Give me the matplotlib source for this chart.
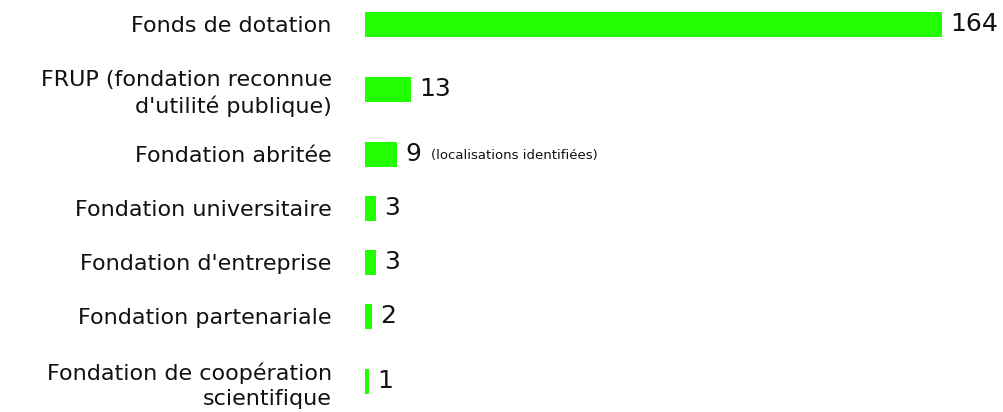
import matplotlib
matplotlib.use("Agg")
import matplotlib.pyplot as plt

plt.rcParams['font.family'] = ['DejaVu Sans']

categories = [
    "Fonds de dotation",
    "FRUP (fondation reconnue\nd'utilité publique)",
    "Fondation abritée",
    "Fondation universitaire",
    "Fondation d'entreprise",
    "Fondation partenariale",
    "Fondation de coopération\nscientifique",
]
values = [164, 13, 9, 3, 3, 2, 1]
value_notes = ["", "", "(localisations identifiées)", "", "", "", ""]

GREEN = "#22ff00"

# vertical layout in pixel units: two-line labels take more room
row_h = [54 + 22 * (c.count("\n")) for c in categories]
ypos = [0]
for a, b in zip(row_h[:-1], row_h[1:]):
    ypos.append(ypos[-1] + (a + b) / 2)

W, H = 1004, 412
fig = plt.figure(figsize=(W / 100, H / 100), dpi=100)
left = 365
ax = fig.add_axes([left / W, 0, 1 - left / W, 1])
px_per_unit = 577 / 164
ax.set_xlim(0, (W - left) / px_per_unit)
ax.set_ylim(H - 24, -24)

ax.barh(ypos, values, height=25, color=GREEN)

ax.set_yticks(ypos)
ax.set_yticklabels(categories, fontsize=16, color="#111111", linespacing=1.3)
ax.tick_params(axis="y", length=0, pad=24)
ax.set_xticks([])
for s in ax.spines.values():
    s.set_visible(False)

for y, v, note in zip(ypos, values, value_notes):
    ax.annotate(str(v), (v, y), xytext=(6, 0), textcoords="offset points",
                ha="left", va="center", fontsize=18, color="#111111")
    if note:
        ax.annotate(note, (v, y), xytext=(25, -1), textcoords="offset points",
                    ha="left", va="center", fontsize=9.5, color="#111111")

fig.savefig("out.png", dpi=100)
